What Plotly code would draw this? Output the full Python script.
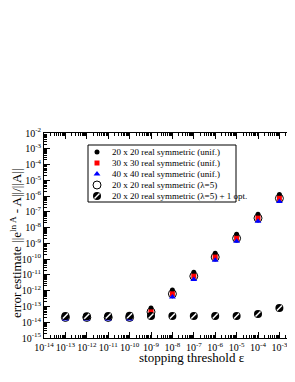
import plotly.graph_objects as go

# ---------------- data ----------------
thresholds = [1e-13, 1e-12, 1e-11, 1e-10, 1e-9, 1e-8, 1e-7, 1e-6, 1e-5, 1e-4, 1e-3, 1e-2]
err_20_unif = [2.5e-14, 2.5e-14, 2.5e-14, 2.5e-14, 7.9e-14, 1.1e-12, 1.5e-11, 2.4e-10, 3.8e-9, 7.1e-8, 1.26e-6, 2.2e-5]
err_30_unif = [2.0e-14, 2.0e-14, 2.0e-14, 2.0e-14, 4.5e-14, 6.3e-13, 8.3e-12, 1.35e-10, 2.1e-9, 4.0e-8, 7.2e-7, 1.35e-5]
err_40_unif = [1.6e-14, 1.6e-14, 1.6e-14, 1.6e-14, 2.8e-14, 4.0e-13, 5.2e-12, 8.5e-11, 1.35e-9, 2.5e-8, 4.6e-7, 8.5e-6]
err_20_lam5 = [2.0e-14, 2.0e-14, 2.0e-14, 2.0e-14, 4.5e-14, 6.3e-13, 8.3e-12, 1.35e-10, 2.1e-9, 4.0e-8, 7.2e-7, 1.35e-5]
err_20_lam5_opt = [2.5e-14, 2.4e-14, 2.5e-14, 2.6e-14, 2.5e-14, 2.5e-14, 2.5e-14, 2.5e-14, 2.5e-14, 3.3e-14, 7.9e-14, 5.6e-11]

series_names = [
    "20 x 20 real symmetric (unif.)",
    "30 x 30 real symmetric (unif.)",
    "40 x 40 real symmetric (unif.)",
    "20 x 20 real symmetric (λ=5)",
    "20 x 20 real symmetric (λ=5) + 1 opt.",
]

x_tick_exps = list(range(-14, -2))
y_tick_exps = list(range(-15, -1))

# ---------------- figure ----------------
FONT = "Liberation Serif"
OFF = 8                          # default page body margin
W, H = 295 - OFF, 382 - OFF
L, R, T, B = 44, 295, 133, 338   # plot area in page pixels
DEC = 21.4                       # pixels per x decade

fig = go.Figure()

common = dict(x=thresholds, mode="markers", showlegend=False, cliponaxis=False)
fig.add_trace(go.Scatter(y=err_20_lam5, name=series_names[3],
                         marker=dict(symbol="circle-open", size=8, color="black", line=dict(width=1)), **common))
fig.add_trace(go.Scatter(y=err_20_unif, name=series_names[0],
                         marker=dict(symbol="circle", size=5, color="black"), **common))
fig.add_trace(go.Scatter(y=err_30_unif, name=series_names[1],
                         marker=dict(symbol="square", size=5, color="red"), **common))
fig.add_trace(go.Scatter(y=err_40_unif, name=series_names[2],
                         marker=dict(symbol="triangle-up", size=6, color="blue"), **common))
fig.add_trace(go.Scatter(y=err_20_lam5_opt, name=series_names[4],
                         marker=dict(symbol="circle", size=8, color="black"), **common))
fig.add_trace(go.Scatter(y=err_20_lam5_opt, name=series_names[4],
                         marker=dict(symbol="line-ne", size=5, color="white",
                                     line=dict(width=1.5, color="white")), **common))

# ---------------- legend (drawn on a pixel overlay axis) ----------------
leg_x0, leg_x1, leg_y0, leg_y1 = 88, 236, 145, 202
leg_rows = [152, 163, 174, 185, 196]
mk_x, txt_x = 97, 110
fig.add_shape(type="rect", xref="x2", yref="y2", x0=leg_x0, x1=leg_x1, y0=leg_y0, y1=leg_y1,
              line=dict(color="black", width=1), fillcolor="white", layer="below")
leg_markers = [
    dict(symbol="circle", size=5, color="black"),
    dict(symbol="square", size=5, color="red"),
    dict(symbol="triangle-up", size=6, color="blue"),
    dict(symbol="circle-open", size=8, color="black", line=dict(width=1)),
    dict(symbol="circle", size=8, color="black"),
]
for yy, mk in zip(leg_rows, leg_markers):
    fig.add_trace(go.Scatter(x=[mk_x], y=[yy], xaxis="x2", yaxis="y2", mode="markers",
                             marker=mk, showlegend=False, hoverinfo="skip"))
fig.add_trace(go.Scatter(x=[mk_x], y=[leg_rows[4]], xaxis="x2", yaxis="y2", mode="markers",
                         marker=dict(symbol="line-ne", size=5, color="white", line=dict(width=1.5, color="white")),
                         showlegend=False, hoverinfo="skip"))
for yy, name in zip(leg_rows, series_names):
    fig.add_annotation(x=txt_x, y=yy, xref="x2", yref="y2", text=name, showarrow=False,
                       xanchor="left", yanchor="middle", font=dict(family=FONT, size=9, color="black"))

# ---------------- axes ----------------
x_lo = -14
x_hi = -14 + (R - L) / DEC
minor_x = [k * 10.0 ** e for e in range(-14, -2) for k in range(2, 10)]
minor_y = [k * 10.0 ** e for e in range(-15, -2) for k in range(2, 10)]

fig.update_layout(
    template="none",
    width=W, height=H,
    margin=dict(l=L - OFF, r=0, t=T - OFF, b=H - (B - OFF), pad=0),
    paper_bgcolor="white", plot_bgcolor="white",
    font=dict(family=FONT, size=10, color="black"),
    xaxis=dict(type="log", range=[x_lo, x_hi], showgrid=False, zeroline=False, automargin=False,
               showline=True, linecolor="black", linewidth=1, mirror="ticks",
               ticks="inside", ticklen=6, tickcolor="black", tickangle=0,
               tickvals=[10.0 ** e for e in x_tick_exps],
               ticktext=[f"10<sup>{e}</sup>" for e in x_tick_exps],
               tickfont=dict(family=FONT, size=10),
               minor=dict(ticks="inside", ticklen=3, tickcolor="black", tickvals=minor_x, showgrid=False)),
    yaxis=dict(type="log", range=[-15, -2], showgrid=False, zeroline=False, automargin=False,
               showline=True, linecolor="black", linewidth=1,
               ticks="inside", ticklen=6, tickcolor="black",
               tickvals=[10.0 ** e for e in y_tick_exps],
               ticktext=[f"10<sup>{e}</sup>" for e in y_tick_exps],
               tickfont=dict(family=FONT, size=10),
               minor=dict(ticks="inside", ticklen=3, tickcolor="black", tickvals=minor_y, showgrid=False)),
    xaxis2=dict(overlaying="x", range=[L, R], visible=False, fixedrange=True, automargin=False),
    yaxis2=dict(overlaying="y", range=[B, T], visible=False, fixedrange=True, automargin=False),
)

# cut-off tick label at the right edge and axis titles
fig.add_annotation(x=(DEC * 12) / (R - L), y=0, xref="paper", yref="paper",
                   text="10<sup>-2</sup>", showarrow=False, xanchor="center", yanchor="top", yshift=-2,
                   font=dict(family=FONT, size=10))
fig.add_annotation(x=(192 - L) / (R - L), y=(B - 357) / (B - T), xref="paper", yref="paper",
                   text="stopping threshold ε", showarrow=False, xanchor="center", yanchor="middle",
                   font=dict(family=FONT, size=13))
fig.add_annotation(x=(16 - L) / (R - L), y=(B - 243) / (B - T), xref="paper", yref="paper",
                   text="error estimate ||e<sup>ln A</sup> - A||/||A||", textangle=-90, showarrow=False,
                   xanchor="center", yanchor="middle", font=dict(family=FONT, size=13))

fig.write_html("out.html")
